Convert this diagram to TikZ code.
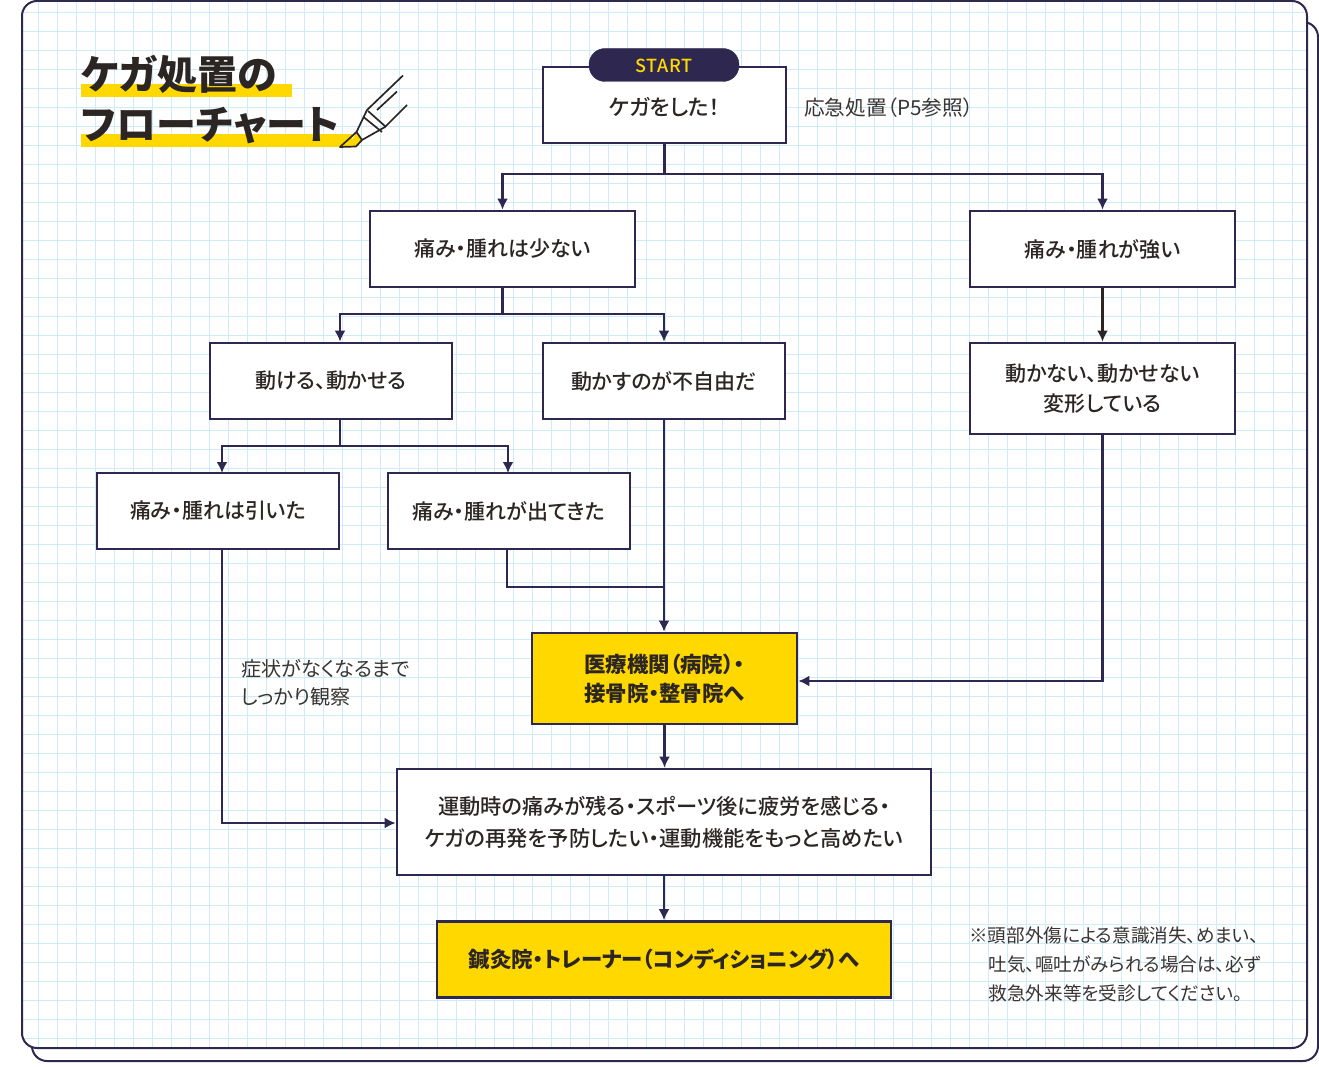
\documentclass[tikz,border=0pt]{standalone}
\usepackage{fontspec}
\usetikzlibrary{arrows.meta,calc}
\newfontfamily\jpn[RawFeature=+palt]{Noto Sans CJK JP}
\newfontfamily\jpm[RawFeature=+palt]{Noto Sans CJK JP Medium}
\setmainfont{Noto Sans CJK JP}
\definecolor{navy}{HTML}{2E2750}
\definecolor{ink}{HTML}{2B2523}
\definecolor{gray2}{HTML}{3A3532}
\definecolor{gridc}{HTML}{CDEBF9}
\definecolor{yel}{HTML}{FFD800}
\tikzset{
 x=1pt,y=-1pt,
 panel/.style={draw=navy,line width=2pt,rounded corners=15pt,fill=white},
 boxbase/.style={draw=navy,line width=2.7pt,minimum height=76pt,align=center,inner sep=0pt,text=ink,font=\jpm\fontsize{21}{30}\selectfont},
 whitebox/.style={boxbase,fill=white},
 yelbox/.style={boxbase,fill=yel,font=\jpn\bfseries\fontsize{21.4}{29}\selectfont},
 conn/.style={draw=navy,line width=2.6pt,-{Latex[length=11pt,width=11pt]}},
 connb/.style={conn,draw=ink},
 seg/.style={draw=navy,line width=2.6pt},
 notetext/.style={align=left,anchor=west,inner sep=0pt,text=gray2,font=\jpn\fontsize{18.6}{27.5}\selectfont},
 titletext/.style={anchor=west,inner sep=0pt,text=ink,font=\jpn\bfseries\fontsize{40}{40}\selectfont},
}
\begin{document}
\begin{tikzpicture}
\useasboundingbox (0,0) rectangle (1319,1067);
\fill[white] (0,0) rectangle (1319,1067);
% panels
\draw[panel] (32,22) rectangle (1318,1061);
\begin{scope}
\path[clip,rounded corners=15pt] (22,1) rectangle (1307,1048);
\fill[white] (0,0) rectangle (1319,1067);
\foreach \gx in {0,...,67} \draw[gridc,line width=1.5pt] ({19.3+19*\gx},0) -- ++(0,1067);
\foreach \gy in {0,...,55} \draw[gridc,line width=1.5pt] (0,{12.7+19*\gy}) -- ++(1319,0);
\end{scope}
\draw[navy,line width=2pt,rounded corners=15pt] (22,1) rectangle (1307,1048);
% title
\fill[yel] (81,84) rectangle (292,97);
\fill[yel] (81,134) rectangle (352,147);
\node[titletext] (t1) at (81,74.5) {ケガ処置の};
\node[titletext] (t2) at (81,126) {フローチャート};
% pen
\fill[yel] (356.5,132) -- (362,140) -- (356,146) -- (348,146) -- cycle;
\draw[ink,line width=1.7pt,line join=round] (403,75.5) -- (367,110) -- (356.5,132) -- (362,140) -- (385,127) -- (407,105);
\draw[ink,line width=1.7pt] (397,91.5) -- (377,110);
\draw[ink,line width=1.7pt] (363.5,117) -- (382,132);
\draw[ink,line width=1.7pt] (368,111) -- (386,127);
\draw[ink,line width=1.7pt,line join=round] (356.5,132) -- (340,147) -- (356,146.5) -- (362,140);
% boxes
\node[whitebox,minimum width=243pt,font=\jpm\fontsize{21.8}{30}\selectfont] (start) at (664.5,105) {\raisebox{-11pt}[0pt][0pt]{ケガをした！}};
\node[draw=navy,fill=navy,rounded corners=16pt,minimum width=150pt,minimum height=33pt,inner sep=0pt,text=yel,font=\jpm\fontsize{18}{20}\selectfont] (pill) at (664,65) {\raisebox{-7.5pt}[0pt][0pt]{\addfontfeature{LetterSpace=3}START}};
\node[whitebox,minimum width=265pt] (little) at (502.5,249) {痛み・腫れは少ない};
\node[whitebox,minimum width=265pt] (strong) at (1102.5,249) {痛み・腫れが強い};
\node[whitebox,minimum width=242pt] (move) at (331,381) {動ける、動かせる};
\node[whitebox,minimum width=242pt] (fuji) at (664,381) {動かすのが不自由だ};
\node[whitebox,minimum width=265pt,minimum height=91pt] (nomove) at (1102.5,388.5) {動かない、動かせない\\変形している};
\node[whitebox,minimum width=242pt] (hiita) at (218,511) {痛み・腫れは引いた};
\node[whitebox,minimum width=242pt] (deta) at (509,511) {痛み・腫れが出てきた};
\node[yelbox,minimum width=265pt,minimum height=91pt] (hosp) at (664.5,678.5) {医療機関（病院）・\\接骨院・整骨院へ};
\node[whitebox,minimum width=534pt,minimum height=106pt,font=\jpm\fontsize{21.3}{32}\selectfont] (run) at (664,822) {運動時の痛みが残る・スポーツ後に疲労を感じる・\\ケガの再発を予防したい・運動機能をもっと高めたい};
\node[yelbox,minimum width=454pt] (acu) at (664,959.5) {鍼灸院・トレーナー（コンディショニング）へ};
% free texts
\node[notetext,font=\jpn\fontsize{20.7}{27.5}\selectfont] (n1) at (804,107.5) {応急処置（P5参照）};
\node[notetext,font=\jpn\fontsize{20.1}{27.5}\selectfont] (n2) at (241,683) {症状がなくなるまで\\しっかり観察};
\node[notetext,anchor=north west,font=\jpn\fontsize{18.6}{29.3}\selectfont] (n3) at (969,926.5) {※頭部外傷による意識消失、めまい、\\\hspace*{19.5pt}吐気、嘔吐がみられる場合は、必ず\\\hspace*{19.5pt}救急外来等を受診してください。};
% junction coordinates
\coordinate (busA) at (start.south |- 0,174);
\coordinate (busB) at (little.south |- 0,314);
\coordinate (mv) at ($(move.south)+(9,0)$);
\coordinate (mvn) at ($(move.north)+(9,0)$);
\coordinate (busC) at (mv |- 0,446);
\coordinate (hx) at (222,549);
\coordinate (hxn) at (222,473);
\coordinate (dx) at (507,549);
\coordinate (dxn) at (508,473);
\coordinate (join) at (fuji.south |- 0,587);
\coordinate (hospin) at ($(hosp.east)+(0,2.5)$);
\coordinate (runin) at ($(run.west)+(0,1)$);
% connectors
\draw[seg] (start.south) -- (busA);
\draw[conn] (busA) -| (little.north);
\draw[conn] (busA) -| (strong.north);
\draw[seg] (little.south) -- (busB);
\draw[conn] (busB) -| (mvn);
\draw[conn] (busB) -| (fuji.north);
\draw[connb] (strong.south) -- (nomove.north);
\draw[seg] (mv) -- (busC);
\draw[conn] (busC) -| (hxn);
\draw[conn] (busC) -| (dxn);
\draw[seg] (dx) |- (join);
\draw[conn] (fuji.south) -- (fuji.south |- hosp.north);
\draw[conn] (nomove.south) |- (hospin);
\draw[conn] (hx) |- (runin);
\draw[conn] (hosp.south) -- (hosp.south |- run.north);
\draw[conn] (run.south) -- (acu.north);
\end{tikzpicture}
\end{document}
